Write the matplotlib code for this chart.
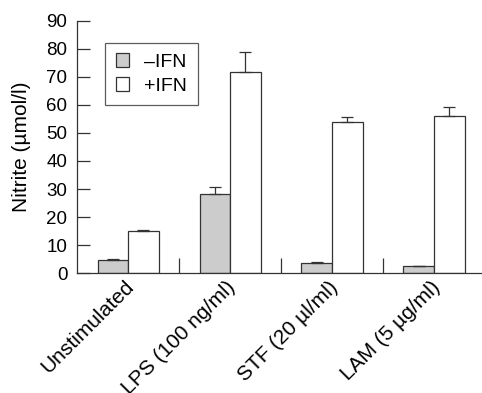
import numpy as np
import matplotlib.pyplot as plt
import matplotlib.transforms as mtransforms
from matplotlib.ticker import FixedLocator

plt.rcParams['font.family'] = ['Liberation Sans', 'DejaVu Sans']

categories = ['Unstimulated', 'LPS (100 ng/ml)', 'STF (20 \u00b5l/ml)', 'LAM (5 \u00b5g/ml)']
minus_ifn = [4.8, 28.1, 3.7, 2.6]
minus_err = [0.3, 2.8, 0.4, 0.0]
plus_ifn = [15.0, 71.9, 54.0, 56.0]
plus_err = [0.5, 6.9, 1.8, 3.4]

fig = plt.figure(figsize=(4.82, 3.93), dpi=100)
ax = fig.add_axes([0.16, 0.305, 0.84, 0.642])

x = np.arange(len(categories))
w = 0.3
edge = '#333333'
ax.bar(x - w / 2, minus_ifn, w, color='#cccccc', edgecolor=edge, linewidth=0.9,
       yerr=[np.zeros(4), minus_err], capsize=4.5,
       error_kw=dict(elinewidth=0.9, capthick=0.9, ecolor=edge), label='\u2013IFN')
ax.bar(x + w / 2, plus_ifn, w, color='white', edgecolor=edge, linewidth=0.9,
       yerr=[np.zeros(4), plus_err], capsize=4.5,
       error_kw=dict(elinewidth=0.9, capthick=0.9, ecolor=edge), label='+IFN')

ax.set_xlim(-0.5, 3.47)
ax.set_ylim(0, 90)
ax.set_yticks(range(0, 91, 10))
ax.set_xticks(x)
ax.set_xticklabels(categories, rotation=45, ha='right', va='top', rotation_mode='anchor')
ax.xaxis.set_minor_locator(FixedLocator([0.5, 1.5, 2.5]))
ax.tick_params(axis='x', which='major', length=0, pad=3, labelsize=15)
ax.tick_params(axis='x', which='minor', direction='in', length=11, width=0.9, color=edge)
ax.tick_params(axis='y', direction='in', length=9.5, width=0.9, color=edge, labelsize=13.5, pad=7)

# nudge the rotated labels a little to the left
shift = mtransforms.ScaledTranslation(-4 / 100, 0, fig.dpi_scale_trans)
for lbl in ax.get_xticklabels():
    lbl.set_transform(lbl.get_transform() + shift)

for s in ['top', 'right']:
    ax.spines[s].set_visible(False)
for s in ['left', 'bottom']:
    ax.spines[s].set_color(edge)
    ax.spines[s].set_linewidth(0.9)

ax.set_ylabel('Nitrite (\u00b5mol/l)', fontsize=15, labelpad=11)

leg = ax.legend(loc='upper left', bbox_to_anchor=(0.069, 0.913), borderaxespad=0, fontsize=14,
                frameon=True, fancybox=False, edgecolor=edge, handlelength=0.7,
                handleheight=0.7, handletextpad=0.75, borderpad=0.55, labelspacing=0.3)
leg.get_frame().set_linewidth(0.9)

fig.savefig('out.png', dpi=100)
